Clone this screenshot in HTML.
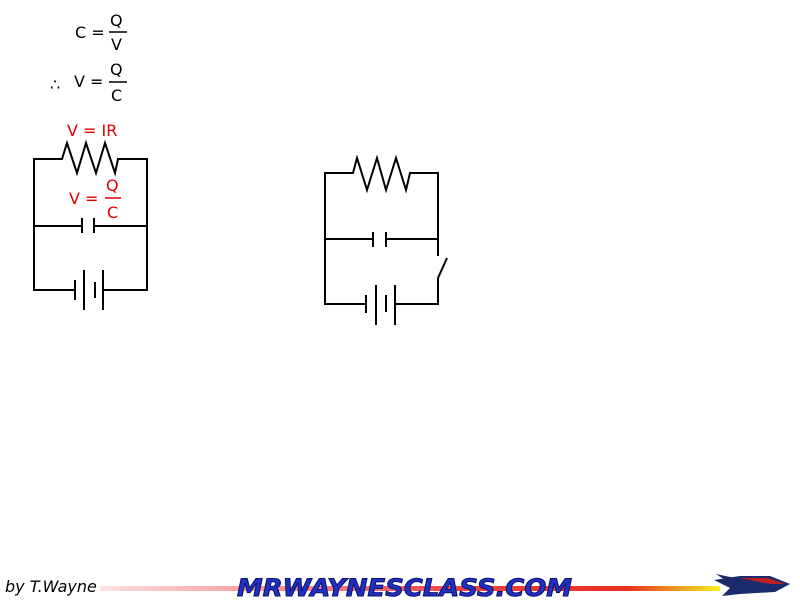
<!DOCTYPE html>
<html><head><style>
body{margin:0;width:800px;height:600px;background:#fff;overflow:hidden;position:relative;font-family:"DejaVu Sans","Liberation Sans",sans-serif}
</style></head><body>
<svg width="800" height="600" style="position:absolute;left:0;top:0" font-family="DejaVu Sans, Liberation Sans, sans-serif">
<defs>
<linearGradient id="g" x1="0" x2="1"><stop offset="0" stop-color="#fde0e0"/><stop offset="0.6" stop-color="#f04040"/><stop offset="0.85" stop-color="#e83020"/><stop offset="1" stop-color="#f8f020"/></linearGradient>
</defs>
<g font-size="16" fill="#000">
<text x="75" y="38">C =</text>
<text x="110" y="26">Q</text><line x1="109" y1="32" x2="127" y2="32" stroke="#000" stroke-width="1.5"/><text x="111" y="50">V</text>
<text x="50" y="90">∴</text><text x="74" y="87">V =</text>
<text x="110" y="75">Q</text><line x1="109" y1="82" x2="127" y2="82" stroke="#000" stroke-width="1.5"/><text x="111" y="101">C</text>
</g>
<g font-size="16" fill="#e00000">
<text x="67" y="136">V = IR</text>
<text x="69" y="204">V =</text>
<text x="106" y="191">Q</text><line x1="105" y1="198" x2="121" y2="198" stroke="#e00000" stroke-width="1.5"/><text x="107" y="218">C</text>
</g>
<g stroke="#000" stroke-width="2" fill="none">
<polyline points="75,290 34,290 34,159 62,159 67,143 77,173 86,143 96,173 105,143 115,173 118,159 147,159 147,290 103,290"/>
<line x1="34" y1="226" x2="82" y2="226"/><line x1="94" y1="226" x2="147" y2="226"/>
<line x1="82" y1="218" x2="82" y2="233"/><line x1="94" y1="218" x2="94" y2="233"/>
<line x1="75" y1="280" x2="75" y2="300"/><line x1="84" y1="270" x2="84" y2="310"/>
<line x1="95" y1="282" x2="95" y2="298"/><line x1="103" y1="270" x2="103" y2="310"/>

<polyline points="366,304 325,304 325,173 353,173 357,158 367,190 377,158 386,190 396,158 406,190 410,173 438,173 438,256"/>
<polyline points="438,278 438,304 395,304"/>
<line x1="438" y1="278" x2="447" y2="258"/>
<line x1="325" y1="239" x2="373" y2="239"/><line x1="386" y1="239" x2="438" y2="239"/>
<line x1="373" y1="232" x2="373" y2="247"/><line x1="386" y1="232" x2="386" y2="247"/>
<line x1="366" y1="295" x2="366" y2="313"/><line x1="376" y1="285" x2="376" y2="325"/>
<line x1="386" y1="295" x2="386" y2="312"/><line x1="395" y1="285" x2="395" y2="325"/>
</g>
<rect x="100" y="586" width="620" height="5" fill="url(#g)"/>
<text x="5" y="592" font-size="16" font-style="italic" fill="#000">by T.Wayne</text>
<text x="237" y="596" font-size="24" font-weight="bold" font-style="italic" fill="#2030c0" stroke="#0a1470" stroke-width="1" textLength="335" lengthAdjust="spacingAndGlyphs">MRWAYNESCLASS.COM</text>
<g>
<polygon points="714,580 740,576 770,576 790,584 775,592 740,594 722,596 730,588" fill="#1a2a6a"/>
<polygon points="740,578 768,578 785,584 770,584" fill="#c02020"/>
<polygon points="716,574 735,578 725,580" fill="#1a2a6a"/>
</g>
</svg>
</body></html>
